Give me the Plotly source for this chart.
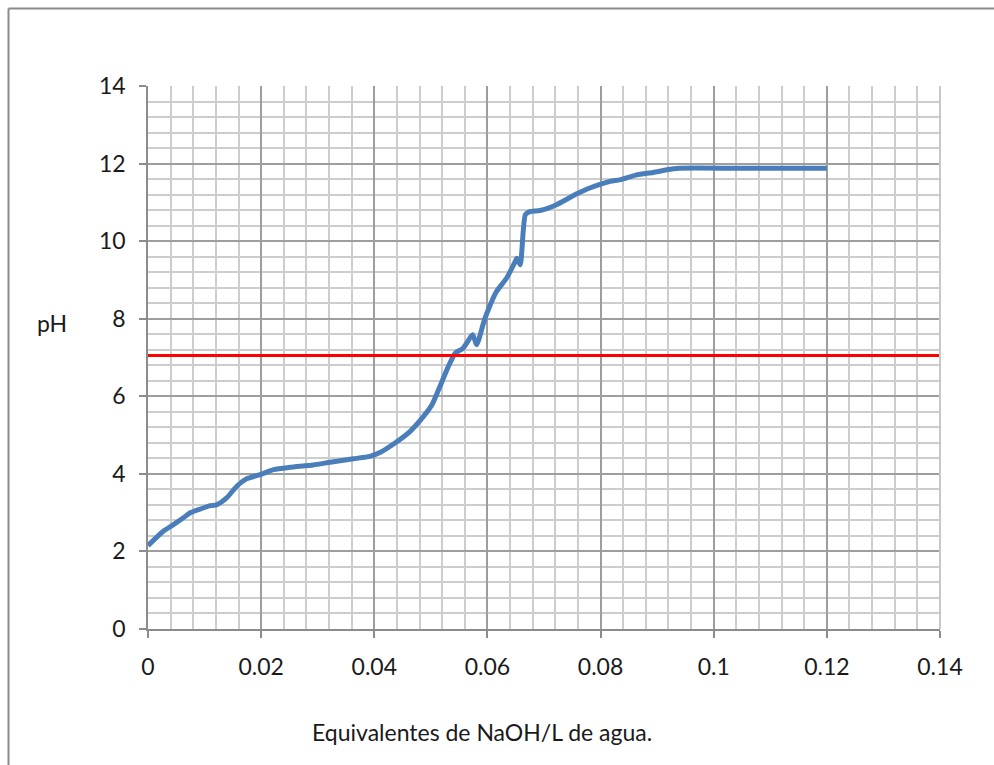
import plotly.graph_objects as go

# Titration data: equivalents of NaOH per litre vs measured pH
naoh_eq = [0.0, 0.0027, 0.0045, 0.0062, 0.0074, 0.0092, 0.0110, 0.0121, 0.0139,
           0.0157, 0.0174, 0.0198, 0.0222, 0.0251, 0.0292, 0.0322, 0.0363, 0.0392,
           0.0410, 0.0436, 0.0463, 0.0487, 0.0502, 0.0516, 0.0531, 0.0543, 0.0557,
           0.0569, 0.0574, 0.0581, 0.0593, 0.0599, 0.0616, 0.0634, 0.0649, 0.0652,
           0.0658, 0.0667, 0.0675, 0.0693, 0.0722, 0.0758, 0.0781, 0.0817, 0.0834,
           0.0864, 0.0893, 0.0917, 0.0940, 0.1046, 0.1200]
ph = [2.15, 2.52, 2.69, 2.86, 2.99, 3.09, 3.18, 3.20, 3.38,
      3.68, 3.87, 3.98, 4.11, 4.17, 4.23, 4.30, 4.39, 4.45,
      4.55, 4.79, 5.09, 5.48, 5.78, 6.25, 6.77, 7.11, 7.24,
      7.50, 7.59, 7.33, 7.89, 8.14, 8.70, 9.05, 9.47, 9.56,
      9.39, 10.68, 10.76, 10.79, 10.94, 11.22, 11.37, 11.54, 11.58,
      11.71, 11.77, 11.84, 11.88, 11.88, 11.88]

# Neutral reference line
neutral_x = [0.0, 0.14]
neutral_ph = [7.05, 7.05]

W, H = 994, 765
L, R, T, B = 148, 54, 86, 136
PW, PH = W - L - R, H - T - B


def px(x):
    return (x - L) / PW


def py(y):
    return (H - B - y) / PH


FONT = "Lato"
FS = 23

fig = go.Figure()
fig.add_trace(go.Scatter(x=naoh_eq, y=ph, mode="lines",
                         line=dict(color="#4A7EBB", width=5, shape="spline", smoothing=0.6),
                         showlegend=False, hoverinfo="skip"))
fig.add_trace(go.Scatter(x=neutral_x, y=neutral_ph, mode="lines",
                         line=dict(color="#FF0000", width=3),
                         showlegend=False, hoverinfo="skip"))

fig.update_layout(
    width=W, height=H,
    margin=dict(l=L, r=R, t=T, b=B),
    paper_bgcolor="white", plot_bgcolor="white",
    font=dict(family=FONT, size=FS, color="#1a1a1a"),
    xaxis=dict(range=[0, 0.14], dtick=0.02, tick0=0, showgrid=True,
               gridcolor="#9e9e9e", gridwidth=1.8,
               minor=dict(dtick=0.004, showgrid=True, gridcolor="#cdcdcd", gridwidth=1.8),
               ticks="outside", ticklen=7, tickcolor="#8c8c8c", tickwidth=1.5,
               showline=True, linecolor="#8c8c8c", linewidth=1.5,
               tickformat="~g", zeroline=False, ticklabelstandoff=10,
               mirror=False),
    yaxis=dict(range=[0, 14], dtick=2, tick0=0, showgrid=True,
               gridcolor="#9e9e9e", gridwidth=1.8,
               minor=dict(dtick=0.4, showgrid=True, gridcolor="#cdcdcd", gridwidth=1.8),
               ticks="outside", ticklen=7, tickcolor="#8c8c8c", tickwidth=1.5,
               showline=True, linecolor="#8c8c8c", linewidth=1.5,
               zeroline=False, ticklabelstandoff=9),
    annotations=[
        dict(text="pH", x=px(52), y=py(323), xref="paper", yref="paper",
             showarrow=False, xanchor="center", yanchor="middle",
             font=dict(family=FONT, size=FS, color="#1a1a1a")),
        dict(text="Equivalentes de NaOH/L de agua.", x=px(482), y=py(732),
             xref="paper", yref="paper", showarrow=False,
             xanchor="center", yanchor="middle",
             font=dict(family=FONT, size=FS, color="#1a1a1a")),
    ],
    shapes=[
        # right plot-area edge in the light grid tone
        dict(type="line", xref="paper", yref="paper", x0=1, x1=1, y0=0, y1=1,
             line=dict(color="#c8c8c8", width=2)),
        # outer chart frame (left and top edges)
        dict(type="line", xref="paper", yref="paper", x0=px(8.5), x1=px(8.5),
             y0=py(8.5), y1=py(H + 5), line=dict(color="#8a8a8a", width=2)),
        dict(type="line", xref="paper", yref="paper", x0=px(8.5), x1=px(W + 5),
             y0=py(8.5), y1=py(8.5), line=dict(color="#8a8a8a", width=2)),
    ],
)

fig.write_html("out.html")
